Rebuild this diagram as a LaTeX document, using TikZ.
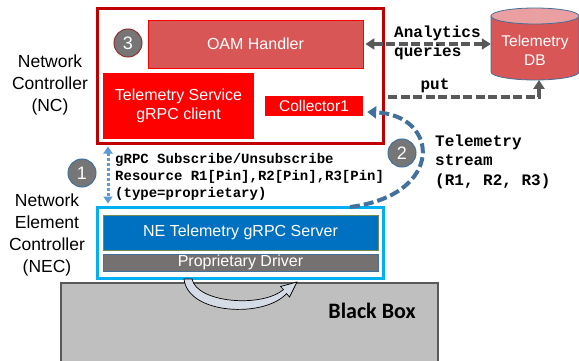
\documentclass[tikz,border=0pt]{standalone}
\usepackage{fontspec}
\setmainfont{Liberation Sans}
\newfontfamily\monofont{Liberation Mono}
\newfontfamily\calfont{Carlito}
\usetikzlibrary{arrows.meta,calc}
\definecolor{ncred}{RGB}{192,0,0}
\definecolor{oamred}{RGB}{217,86,86}
\definecolor{dbtop}{RGB}{234,160,160}
\definecolor{brightred}{RGB}{255,0,0}
\definecolor{necblue}{RGB}{0,176,240}
\definecolor{serverblue}{RGB}{0,112,192}
\definecolor{servergreen}{RGB}{112,140,80}
\definecolor{drivergray}{RGB}{118,113,113}
\definecolor{boxgray}{RGB}{191,191,191}
\definecolor{edgegray}{RGB}{89,89,89}
\definecolor{circgray}{RGB}{118,118,118}
\definecolor{steelblue}{RGB}{65,113,156}
\definecolor{lightblue}{RGB}{91,155,213}
\definecolor{arrowfill}{RGB}{214,220,229}
\definecolor{cthreeborder}{RGB}{140,50,50}
\begin{document}
\begin{tikzpicture}[x=1pt,y=-1pt,
  box/.style={rectangle, inner sep=0pt, align=center, text=white,
    font=\fontsize{16}{19}\selectfont},
  numcirc/.style={circle, fill=circgray, minimum size=28pt, inner sep=0pt,
    text=white, line width=1pt, font=\fontsize{18}{18}\selectfont},
  sidelabel/.style={align=center, font=\fontsize{17.5}{22}\selectfont},
  monolabel/.style={align=left, inner sep=0pt, font=\monofont\bfseries\fontsize{16}{19.5}\selectfont},
  grayarrow/.style={draw=edgegray, line width=3.5pt, dash pattern=on 9pt off 3.5pt,
    -{Triangle[length=9pt,width=11pt]}},
]
\clip (0,0) rectangle (579,361);
\fill[white] (0,0) rectangle (579,361);

% Network Controller
\node[box, draw=ncred, line width=3pt, minimum width=286pt, minimum height=134pt] (nc) at (240,76) {};
\node[box, draw=brightred, fill=oamred, line width=0.8pt, minimum width=215pt, minimum height=48pt] (oam) at (255.5,44) {OAM Handler};
\node[box, fill=brightred, minimum width=151pt, minimum height=66pt] (client) at (178.5,106) {Telemetry Service\\gRPC client};
\node[box, fill=brightred, minimum width=98pt, minimum height=20pt, font=\fontsize{15.5}{18}\selectfont] (coll) at (314,106) {Collector1};
\node[numcirc, draw=cthreeborder] (c3) at (128,43) {3};

% Telemetry DB
\path[fill=oamred, draw=steelblue, line width=0.8pt]
  (491,16) -- (491,72) arc[start angle=180, end angle=0, x radius=44, y radius=8] -- (579,16) -- cycle;
\path[fill=dbtop, draw=steelblue, line width=0.8pt] (535,16) ellipse[x radius=44, y radius=8];
\node[box, minimum width=88pt, minimum height=72pt] (db) at (535,44) {};
\node[box, font=\fontsize{15.5}{19}\selectfont] (dbtext) at (535,50) {Telemetry\\DB};

% NEC
\node[box, draw=necblue, line width=3pt, minimum width=286pt, minimum height=71pt] (nec) at (240,242.5) {};
\node[box, draw=servergreen, fill=serverblue, line width=0.8pt, minimum width=275pt, minimum height=35pt] (server) at (240.5,232.5) {NE Telemetry gRPC Server};
\node[box, draw=steelblue, fill=drivergray, line width=0.8pt, minimum width=275pt, minimum height=17pt] (driver) at (240.5,262.5) {Proprietary Driver};

% Black box
\node[box, draw=edgegray, fill=boxgray, line width=2pt, minimum width=377pt, minimum height=90pt] (bb) at (249.5,328) {};
\node[font=\calfont\bfseries\fontsize{22}{24}\selectfont] (bbtext) at (372,311) {Black Box};

% curved block arrow
\path[fill=arrowfill, draw=black, line width=0.7pt]
  (184,279) .. controls (188,315) and (265,318) .. (286.5,293.5)
  -- (289.5,297) -- (297,282) -- (280.5,286.5) -- (283.5,289.5)
  .. controls (262,308) and (197,303) .. (192,279) -- cycle;

% side labels
\node[sidelabel] (nclabel) at (50,85) {Network\\Controller\\(NC)};
\node[sidelabel] (neclabel) at (47,235) {Network\\Element\\Controller\\(NEC)};

% analytics queries
\draw[grayarrow, {Triangle[length=9pt,width=11pt]}-{Triangle[length=9pt,width=11pt]}]
  ([xshift=2pt]oam.east) -- (oam.east -| db.west);
\node[monolabel, anchor=west] (aq) at (394,43) {Analytics\\queries};

% put
\coordinate (putstart) at (388,97);
\coordinate (putx) at (539,80);
\draw[grayarrow] (putstart) -- (putstart -| putx) -- (putx);
\node[monolabel] (put) at (435,86) {put};

% subscribe arrow
\coordinate (dotx) at (108,0);
\draw[draw=lightblue, line width=3pt, dash pattern=on 3pt off 2pt,
  {Triangle[length=7pt,width=9pt]}-{Triangle[length=7pt,width=9pt]}]
  ($(dotx |- nc.south)+(0,2)$) -- ($(dotx |- nec.north)+(0,-2)$);
\node[numcirc, draw=steelblue] (c1) at (82,173) {1};
\node[monolabel, anchor=west, font=\monofont\bfseries\fontsize{14}{17}\selectfont] (grpc) at (115,177)
  {gRPC Subscribe/Unsubscribe\\Resource R1[Pin],R2[Pin],R3[Pin]\\(type=proprietary)};

% telemetry stream
\coordinate (tsstart) at (350,207);
\draw[draw=steelblue, line width=4pt, dash pattern=on 10pt off 4pt,
  -{Triangle[length=9pt,width=12pt]}]
  (tsstart) .. controls (445,195) and (440,115) .. ($(coll.east)+(4,6)$);
\node[numcirc, draw=steelblue] (c2) at (402,153) {2};
\node[monolabel, anchor=west] (ts) at (435,161.5) {Telemetry\\stream\\(R1, R2, R3)};
\end{tikzpicture}
\end{document}
